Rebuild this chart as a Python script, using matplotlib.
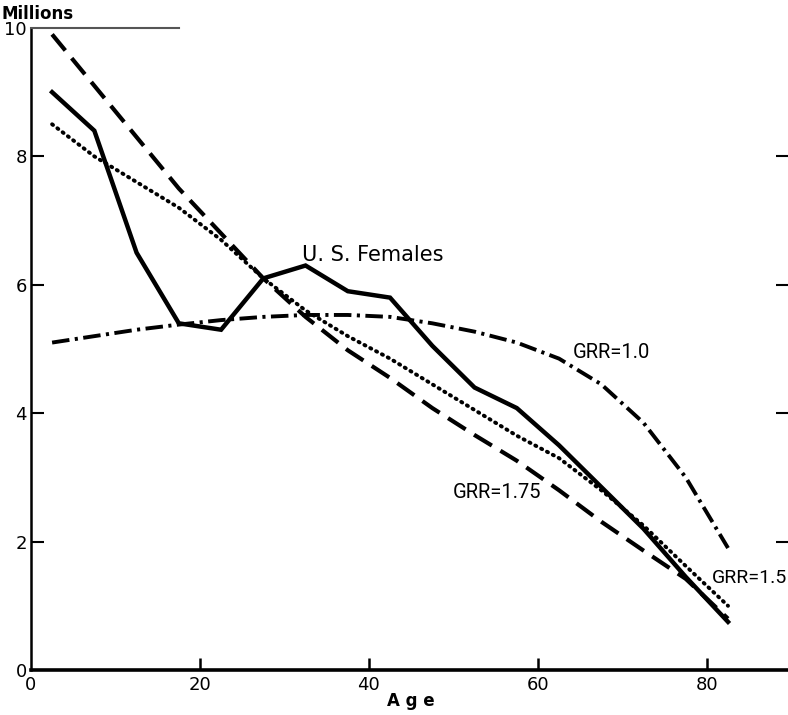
import matplotlib
matplotlib.use("Agg")
import matplotlib.pyplot as plt

# Age group midpoints (years)
ages = [2.5, 7.5, 12.5, 17.5, 22.5, 27.5, 32.5, 37.5, 42.5, 47.5,
        52.5, 57.5, 62.5, 67.5, 72.5, 77.5, 82.5]

# Population in millions
us_females = [9.0, 8.4, 6.5, 5.4, 5.3, 6.1, 6.3, 5.9, 5.8, 5.05,
              4.4, 4.08, 3.5, 2.85, 2.2, 1.45, 0.75]
grr_175 = [9.9, 9.1, 8.3, 7.5, 6.8, 6.1, 5.5, 4.98, 4.55, 4.08,
           3.66, 3.26, 2.8, 2.31, 1.86, 1.42, 0.8]
grr_15 = [8.5, 8.0, 7.6, 7.2, 6.7, 6.1, 5.6, 5.2, 4.85, 4.45,
          4.05, 3.65, 3.3, 2.8, 2.25, 1.62, 1.0]
grr_10 = [5.1, 5.2, 5.3, 5.38, 5.45, 5.5, 5.53, 5.53, 5.5, 5.4,
          5.27, 5.1, 4.85, 4.45, 3.85, 3.0, 1.9]

x_ticks = [0, 20, 40, 60, 80]
y_ticks = [0, 2, 4, 6, 8, 10]

fig = plt.figure(figsize=(7.88, 7.15), dpi=100)
ax = fig.add_axes([0.0393, 0.0629, 0.9607, 0.898])

ax.plot(ages, us_females, color="black", lw=3.2, solid_joinstyle="miter")
ax.plot(ages, grr_175, color="black", lw=3.0, linestyle=(0, (5, 2.4)))
ax.plot(ages, grr_15, color="black", lw=2.8, linestyle=(0, (0.3, 1.4)),
        dash_capstyle="round")
ax.plot(ages, grr_10, color="black", lw=2.8,
        linestyle=(0, (4.5, 1.4, 0.8, 1.4)))

# curve labels
narrow = ["Roboto", "DejaVu Sans"]
ax.text(32.1, 6.46, "U. S. Females", ha="left", va="center", fontsize=15)
ax.text(64.1, 4.95, "GRR=1.0", ha="left", va="center", fontsize=14.5,
        family=narrow)
ax.text(49.9, 2.76, "GRR=1.75", ha="left", va="center", fontsize=14.5,
        family=narrow)
ax.text(80.6, 1.43, "GRR=1.5", ha="left", va="center", fontsize=14,
        family=narrow)

ax.set_xlim(0, 89.6)
ax.set_ylim(0, 10)

ax.spines["right"].set_visible(False)
ax.spines["top"].set_bounds(0, 17.5)
ax.spines["top"].set_color("#555555")
ax.spines["top"].set_linewidth(1.5)
ax.spines["bottom"].set_linewidth(2.6)
ax.spines["left"].set_linewidth(1.8)

ax.set_xticks(x_ticks)
ax.set_xticklabels([str(v) for v in x_ticks], fontsize=13)
ax.set_yticks(y_ticks)
ax.set_yticklabels([str(v) for v in y_ticks], fontsize=13)
ax.tick_params(axis="x", direction="in", length=9, width=1.8, pad=4)
ax.tick_params(axis="y", direction="in", length=9, width=1.5, pad=3,
               right=True)
# no tick mark at the corners
for t in ax.xaxis.get_major_ticks()[:1]:
    t.tick1line.set_visible(False)
for t in [ax.yaxis.get_major_ticks()[0], ax.yaxis.get_major_ticks()[-1]]:
    t.tick1line.set_visible(False)
    t.tick2line.set_visible(False)

fig.text(0.002, 0.981, "Millions", ha="left", va="center", fontsize=12,
         fontweight="bold")
ax.set_xlabel("A g e", fontsize=12, fontweight="bold")
ax.xaxis.set_label_coords(0.502, -0.035)

fig.savefig("out.png", dpi=100)
